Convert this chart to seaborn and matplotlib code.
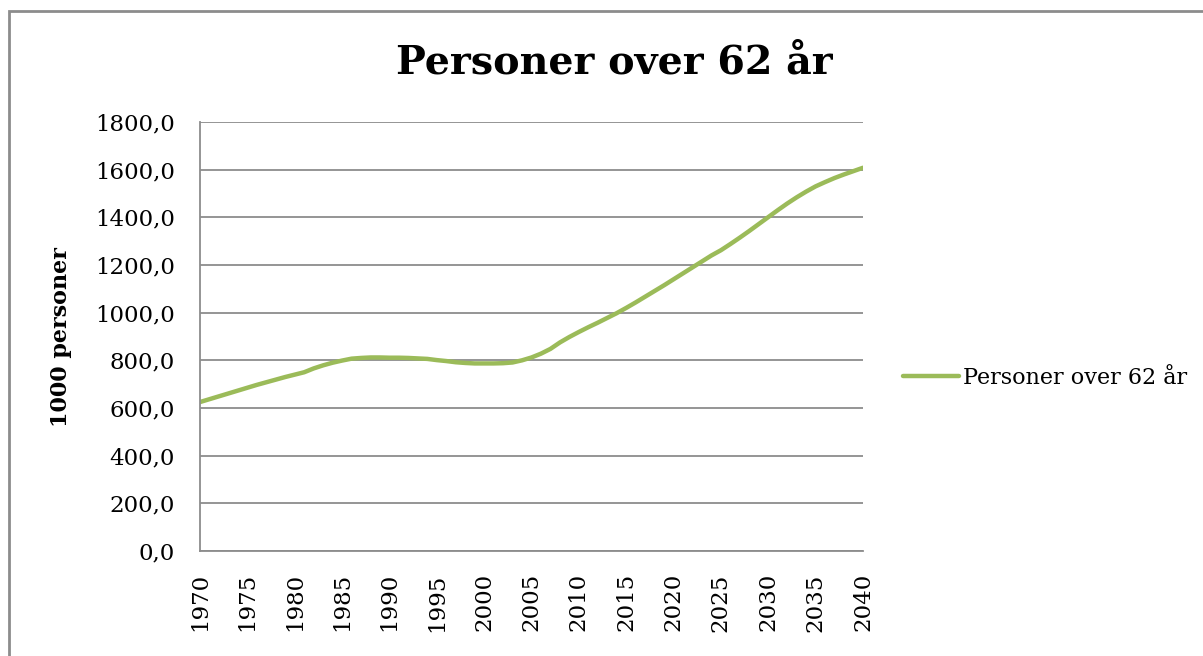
import matplotlib
matplotlib.use("Agg")
import matplotlib.pyplot as plt
import seaborn as sns
import pandas as pd
from matplotlib.patches import Rectangle
from matplotlib.lines import Line2D

years = list(range(1970, 2041))
persons = [
    625, 637, 649, 661, 673, 685, 697, 708, 719, 730,
    740, 750, 766, 779, 790, 799, 807, 810, 812, 812,
    811, 811, 810, 808, 806, 801, 797, 792, 789, 787,
    787, 787, 788, 791, 800, 812, 828, 848, 875, 898,
    919, 939, 958, 978, 998, 1020, 1043, 1067, 1091, 1115,
    1140, 1165, 1190, 1215, 1240, 1262, 1288, 1315, 1343, 1372,
    1401, 1430, 1458, 1484, 1508, 1530, 1548, 1565, 1580, 1594,
    1608,
]
series_name = "Personer over 62 år"
title = "Personer over 62 år"
ylabel = "1000 personer"
yticks = [0, 200, 400, 600, 800, 1000, 1200, 1400, 1600, 1800]
xticks = list(range(1970, 2041, 5))

sns.set_style("white")
plt.rcParams['font.family'] = ['DejaVu Serif']
plt.rcParams['text.color'] = 'black'
plt.rcParams['xtick.color'] = 'black'
plt.rcParams['ytick.color'] = 'black'

df = pd.DataFrame({"År": years, "Verdi": persons, "Serie": series_name})

W, H = 1203, 656
fig = plt.figure(figsize=(W / 100, H / 100), dpi=100)
fig.patches.append(Rectangle((9 / W, -0.1), 1.2, 1 - 11 / H + 0.1, transform=fig.transFigure,
                             fill=False, edgecolor="#8c8c8c", linewidth=2))

ax = fig.add_axes([200 / W, (H - 551) / H, 663 / W, 429 / H])
sns.lineplot(data=df, x="År", y="Verdi", hue="Serie", palette=["#9BBB59"],
             linewidth=3.2, ax=ax, legend=False, solid_capstyle="round")

ax.set_xlim(1970, 2040)
ax.set_ylim(0, 1800)
ax.set_yticks(yticks)
ax.set_yticklabels([f"{v},0" for v in yticks], fontsize=16.5)
ax.set_xticks(xticks)
ax.set_xticklabels([str(x) for x in xticks], rotation=90, fontsize=16.5)
ax.tick_params(axis="y", length=0, pad=18)
ax.tick_params(axis="x", length=0, pad=16)
ax.grid(axis="y", color="#8c8c8c", linewidth=1.3)
ax.set_axisbelow(True)
for s in ["top", "right"]:
    ax.spines[s].set_visible(False)
for s in ["left", "bottom"]:
    ax.spines[s].set_color("#8c8c8c")
    ax.spines[s].set_linewidth(1.3)
ax.set_xlabel("")
ax.set_ylabel("")

fig.text(61 / W, 1 - 337 / H, ylabel, fontsize=16, fontweight="bold", rotation=90,
         ha="center", va="center")
fig.text(614 / W, 1 - 62 / H, title, fontsize=28.5, fontweight="bold", ha="center", va="center")

handle = Line2D([], [], color="#9BBB59", linewidth=3.2, solid_capstyle="round")
fig.legend([handle], [series_name], loc="center left", bbox_to_anchor=(903 / W, 1 - 378 / H),
           frameon=False, fontsize=16, handlelength=2.5, handletextpad=0.2, borderpad=0,
           borderaxespad=0)

fig.savefig("out.png", dpi=100)
